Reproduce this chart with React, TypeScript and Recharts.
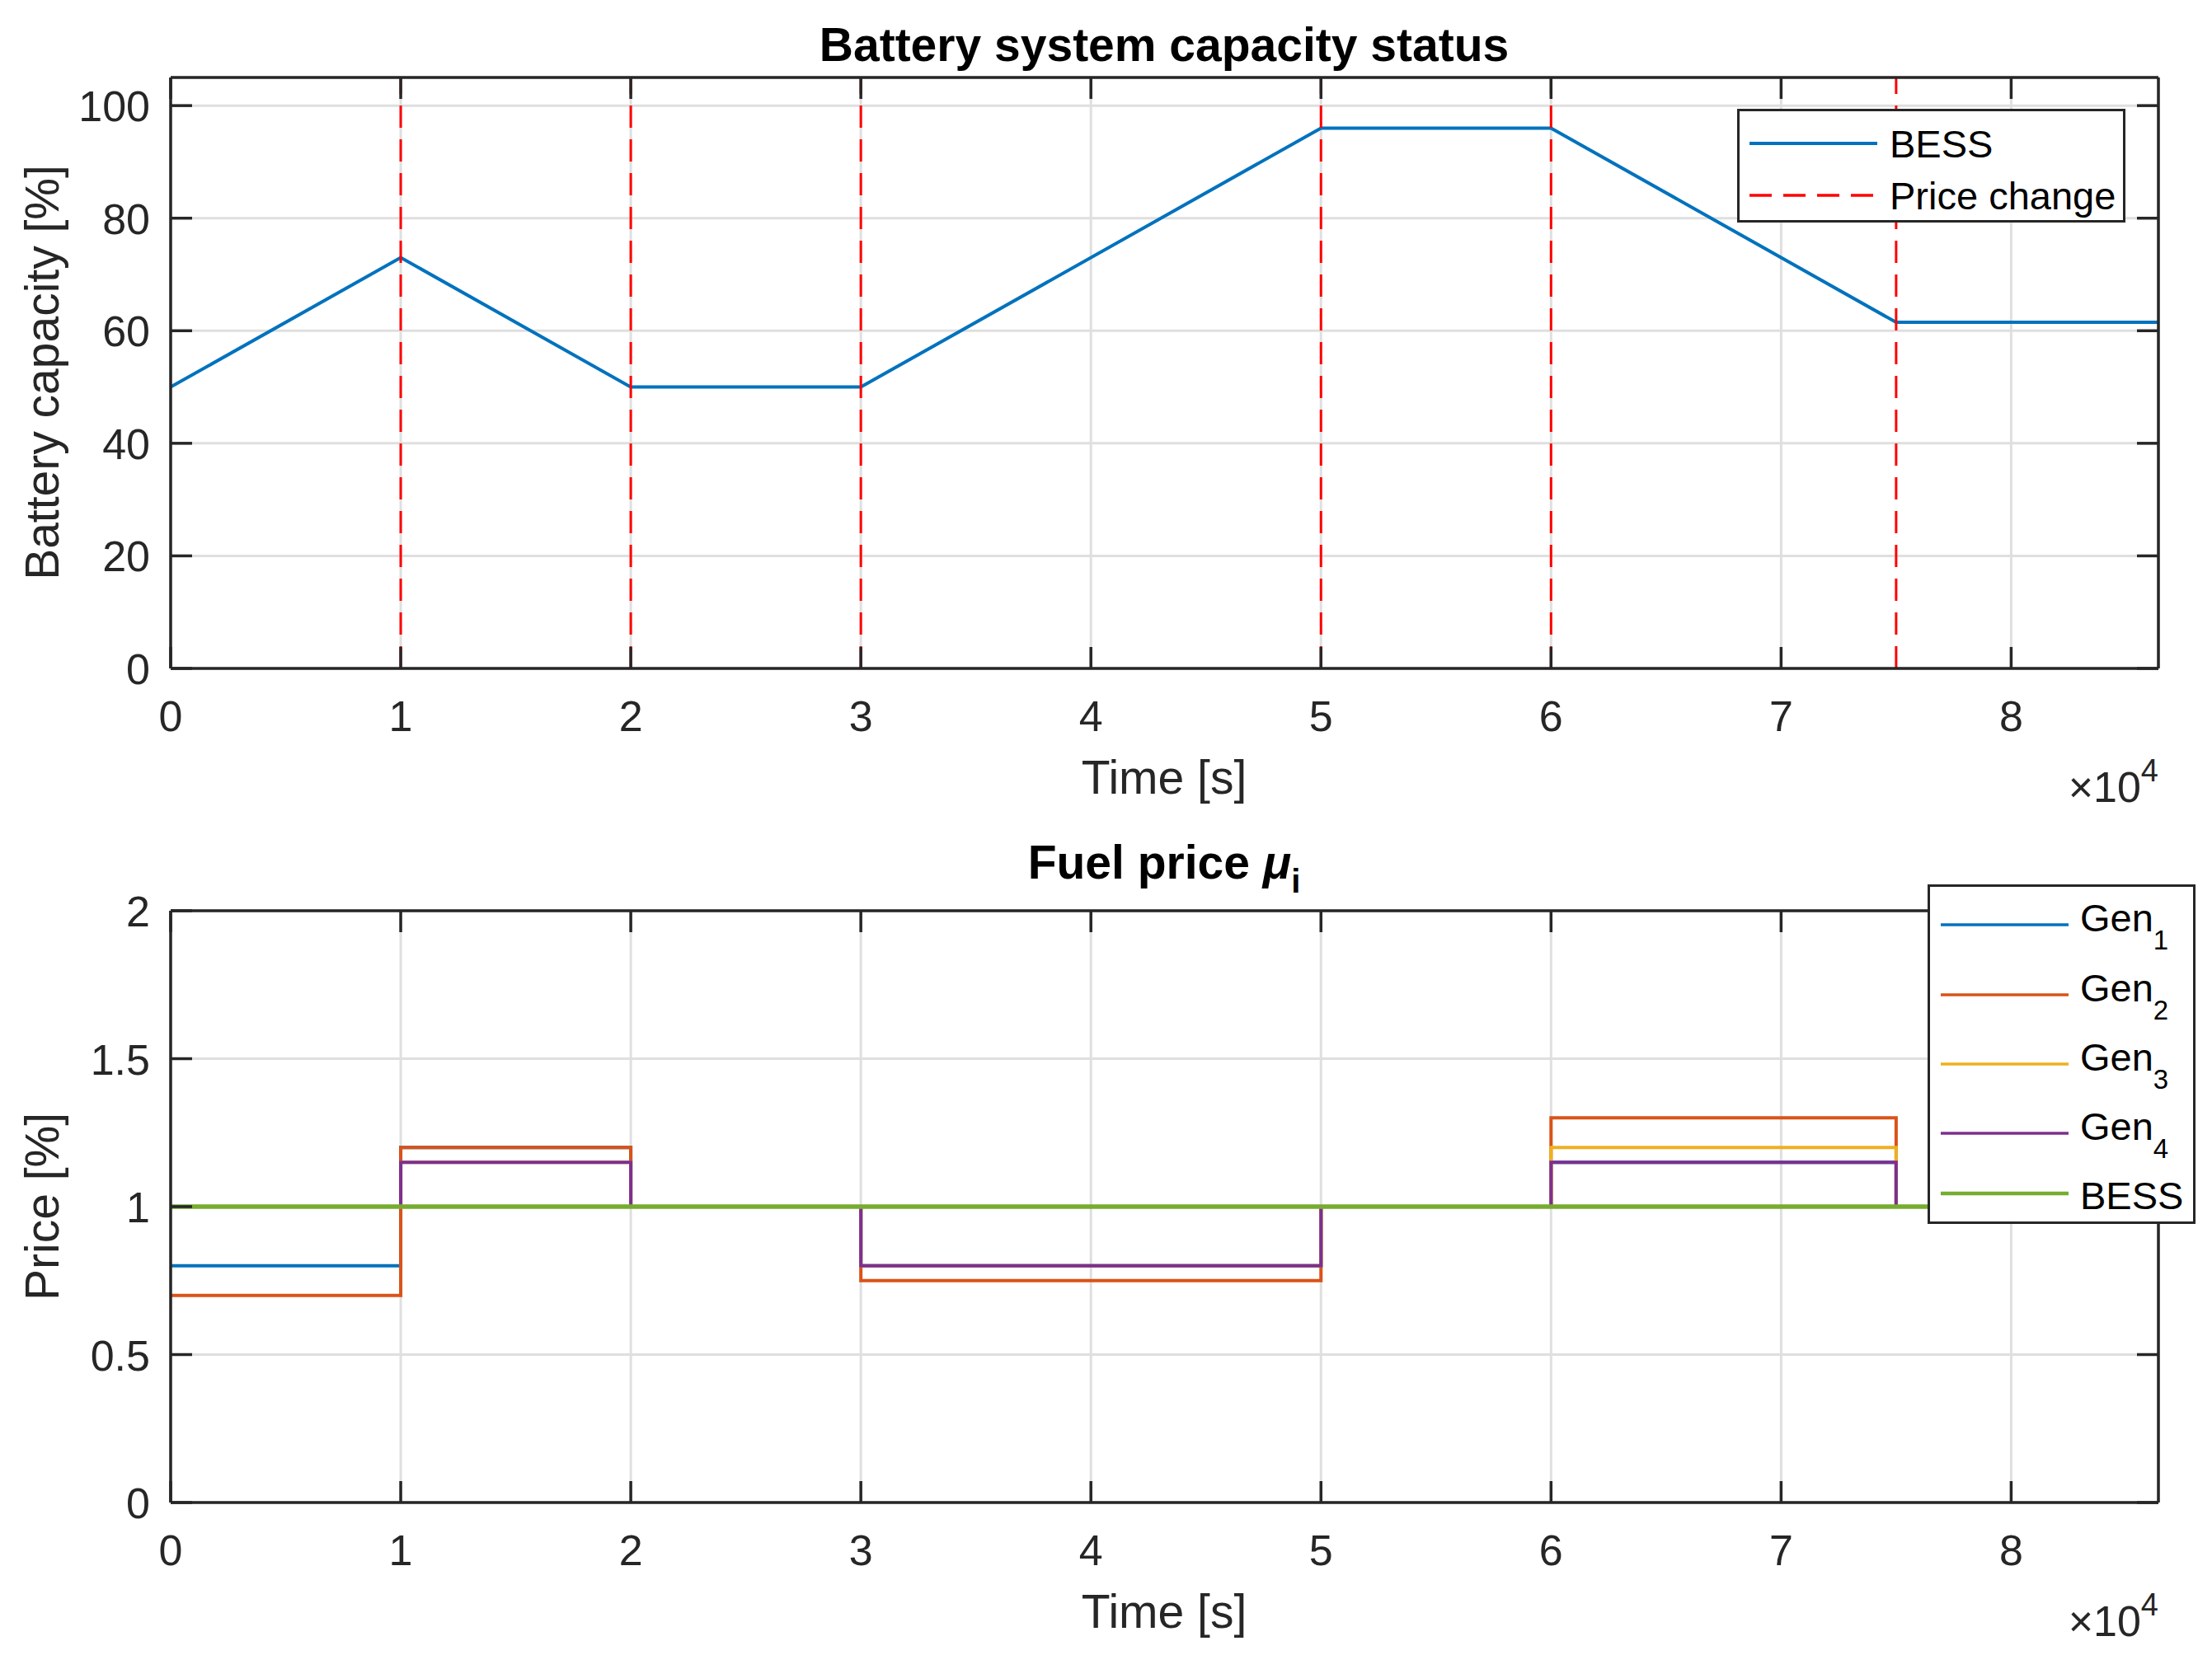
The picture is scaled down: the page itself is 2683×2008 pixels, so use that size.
import React from "react";
import {
  CartesianGrid,
  Legend,
  Line,
  LineChart,
  ReferenceLine,
  XAxis,
  YAxis,
} from "recharts";

// ---- data ----
const capTimes = [0, 10000, 20000, 30000, 50000, 60000, 75000, 86400];
const capValues = [50, 73, 50, 50, 96, 96, 61.5, 61.5];
const priceChangeTimes = [10000, 20000, 30000, 50000, 60000, 75000];

const priceTimes = [0, 10000, 20000, 30000, 50000, 60000, 75000, 86400];
const gen1Price = [0.8, 1.2, 1, 0.8, 1, 1.15, 1, 1];
const gen2Price = [0.7, 1.2, 1, 0.75, 1, 1.3, 1, 1];
const gen3Price = [1, 1.15, 1, 0.8, 1, 1.2, 1, 1];
const gen4Price = [1, 1.15, 1, 0.8, 1, 1.15, 1, 1];
const bessPrice = [1, 1, 1, 1, 1, 1, 1, 1];

const timeTicks = [0, 10000, 20000, 30000, 40000, 50000, 60000, 70000, 80000];
const capTicks = [0, 20, 40, 60, 80, 100];
const priceTicks = [0, 0.5, 1, 1.5, 2];

const capData = capTimes.map((t, i) => ({ t, bess: capValues[i] }));
const priceData = priceTimes.map((t, i) => ({
  t,
  gen1: gen1Price[i],
  gen2: gen2Price[i],
  gen3: gen3Price[i],
  gen4: gen4Price[i],
  bess: bessPrice[i],
}));

// ---- style ----
const W = 2683;
const H = 1004;
const FONT = '"Liberation Sans", Arial, Helvetica, sans-serif';
const AX = "#262626";
const GRID = "#dfdfdf";
const TICK_LEN = 26;
const AX_W = 3.5;
const C = {
  blue: "#0072BD",
  orange: "#D95319",
  yellow: "#EDB120",
  purple: "#7E2F8E",
  green: "#77AC30",
  red: "#FF0000",
};
const PLOT_W = 2411;

function makeXTick(plotH: number) {
  return (props: any) => {
    const { x, y, payload } = props;
    return (
      <g>
        <line x1={x} x2={x} y1={y} y2={y - TICK_LEN} stroke={AX} strokeWidth={AX_W} />
        <line x1={x} x2={x} y1={y - plotH} y2={y - plotH + TICK_LEN} stroke={AX} strokeWidth={AX_W} />
        <text x={x} y={y + 76} textAnchor="middle" fontSize={52} fontFamily={FONT} fill={AX}>
          {payload.value / 10000}
        </text>
      </g>
    );
  };
}

function makeYTick() {
  return (props: any) => {
    const { x, y, payload } = props;
    return (
      <g>
        <line x1={x} x2={x + TICK_LEN} y1={y} y2={y} stroke={AX} strokeWidth={AX_W} />
        <line x1={x + PLOT_W} x2={x + PLOT_W - TICK_LEN} y1={y} y2={y} stroke={AX} strokeWidth={AX_W} />
        <text x={x - 25} y={y + 19} textAnchor="end" fontSize={52} fontFamily={FONT} fill={AX}>
          {payload.value}
        </text>
      </g>
    );
  };
}

function TopLegend() {
  return (
    <svg width={471} height={138} style={{ display: "block" }}>
      <rect x={1.5} y={1.5} width={468} height={135} fill="#fff" stroke={AX} strokeWidth={3} />
      <line x1={15} x2={170} y1={42} y2={42} stroke={C.blue} strokeWidth={4} />
      <text x={185} y={59} fontSize={47} fontFamily={FONT} fill="#000">BESS</text>
      <line x1={15} x2={170} y1={105} y2={105} stroke={C.red} strokeWidth={3.5} strokeDasharray="27 14" />
      <text x={185} y={122} fontSize={47} fontFamily={FONT} fill="#000">Price change</text>
    </svg>
  );
}

const genLegend = [
  { name: "Gen", sub: "1", color: C.blue, y: 49 },
  { name: "Gen", sub: "2", color: C.orange, y: 134 },
  { name: "Gen", sub: "3", color: C.yellow, y: 218 },
  { name: "Gen", sub: "4", color: C.purple, y: 302 },
];

function BottomLegend() {
  return (
    <svg width={325} height={412} style={{ display: "block" }}>
      <rect x={1.5} y={1.5} width={322} height={409} fill="#fff" stroke={AX} strokeWidth={3} />
      {genLegend.map((g) => (
        <g key={g.sub}>
          <line x1={16} x2={171} y1={g.y} y2={g.y} stroke={g.color} strokeWidth={3.5} />
          <text x={185} y={g.y + 8} fontSize={47} fontFamily={FONT} fill="#000">
            {g.name}
            <tspan dy={22} fontSize={33}>{g.sub}</tspan>
          </text>
        </g>
      ))}
      <line x1={16} x2={171} y1={375} y2={375} stroke={C.green} strokeWidth={4.5} />
      <text x={185} y={394} fontSize={47} fontFamily={FONT} fill="#000">BESS</text>
    </svg>
  );
}

function CapacityChart() {
  const plotH = 717;
  return (
    <LineChart width={W} height={H} data={capData} margin={{ top: 94, right: 65, bottom: 0, left: 0 }}>
      <CartesianGrid stroke={GRID} strokeWidth={3} />
      <XAxis
        dataKey="t"
        type="number"
        domain={[0, 86400]}
        ticks={timeTicks}
        interval={0}
        height={193}
        tickSize={0}
        tickMargin={0}
        tickLine={false}
        axisLine={{ stroke: AX, strokeWidth: AX_W }}
        tick={makeXTick(plotH)}
      />
      <YAxis
        type="number"
        domain={[0, 105]}
        ticks={capTicks}
        interval={0}
        width={207}
        tickSize={0}
        tickMargin={0}
        tickLine={false}
        axisLine={{ stroke: AX, strokeWidth: AX_W }}
        tick={makeYTick()}
      />
      <Line
        dataKey="bess"
        name="BESS"
        type="linear"
        stroke={C.blue}
        strokeWidth={4}
        dot={false}
        activeDot={false}
        isAnimationActive={false}
      />
      {priceChangeTimes.map((t) => (
        <ReferenceLine key={t} x={t} stroke={C.red} strokeWidth={3} strokeDasharray="27 14" />
      ))}
      <ReferenceLine y={105} stroke={AX} strokeWidth={AX_W} />
      <ReferenceLine x={86400} stroke={AX} strokeWidth={AX_W} />
      <Legend
        layout="horizontal"
        verticalAlign="middle"
        align="center"
        wrapperStyle={{ position: "absolute", left: 2107, top: 132, width: 471, height: 138 }}
        content={() => <TopLegend />}
      />
    </LineChart>
  );
}

const priceSeries = [
  { key: "gen1", name: "Gen1", color: C.blue, width: 4 },
  { key: "gen2", name: "Gen2", color: C.orange, width: 4 },
  { key: "gen3", name: "Gen3", color: C.yellow, width: 4 },
  { key: "gen4", name: "Gen4", color: C.purple, width: 4 },
  { key: "bess", name: "BESS", color: C.green, width: 5.5 },
];

function PriceChart() {
  const plotH = 718;
  return (
    <LineChart width={W} height={H} data={priceData} margin={{ top: 101, right: 65, bottom: 0, left: 0 }}>
      <CartesianGrid stroke={GRID} strokeWidth={3} />
      <XAxis
        dataKey="t"
        type="number"
        domain={[0, 86400]}
        ticks={timeTicks}
        interval={0}
        height={185}
        tickSize={0}
        tickMargin={0}
        tickLine={false}
        axisLine={{ stroke: AX, strokeWidth: AX_W }}
        tick={makeXTick(plotH)}
      />
      <YAxis
        type="number"
        domain={[0, 2]}
        ticks={priceTicks}
        interval={0}
        width={207}
        tickSize={0}
        tickMargin={0}
        tickLine={false}
        axisLine={{ stroke: AX, strokeWidth: AX_W }}
        tick={makeYTick()}
      />
      {priceSeries.map((s) => (
        <Line
          key={s.key}
          dataKey={s.key}
          name={s.name}
          type="stepAfter"
          stroke={s.color}
          strokeWidth={s.width}
          dot={false}
          activeDot={false}
          isAnimationActive={false}
        />
      ))}
      <ReferenceLine y={2} stroke={AX} strokeWidth={AX_W} />
      <ReferenceLine x={86400} stroke={AX} strokeWidth={AX_W} />
      <Legend
        layout="horizontal"
        verticalAlign="middle"
        align="center"
        wrapperStyle={{ position: "absolute", left: 2338, top: 69, width: 325, height: 412 }}
        content={() => <BottomLegend />}
      />
    </LineChart>
  );
}

function Labels() {
  const cx = 1412;
  return (
    <svg
      width={W}
      height={2008}
      style={{ position: "absolute", left: 0, top: 0, pointerEvents: "none" }}
      fontFamily={FONT}
    >
      <text x={cx} y={74} textAnchor="middle" fontSize={57} fontWeight="bold" fill="#000">
        Battery system capacity status
      </text>
      <text x={cx} y={963} textAnchor="middle" fontSize={57} fill={AX}>Time [s]</text>
      <text transform="translate(71,452) rotate(-90)" textAnchor="middle" fontSize={57} fill={AX}>
        Battery capacity [%]
      </text>
      <text x={2618} y={973} textAnchor="end" fontSize={52} fill={AX}>
        ×10<tspan dy={-25} fontSize={38}>4</tspan>
      </text>

      <text x={cx} y={1066} textAnchor="middle" fontSize={57} fontWeight="bold" fill="#000">
        Fuel price <tspan fontStyle="italic">μ</tspan>
        <tspan dy={17} fontSize={40}>i</tspan>
      </text>
      <text x={cx} y={1975} textAnchor="middle" fontSize={57} fill={AX}>Time [s]</text>
      <text transform="translate(71,1464) rotate(-90)" textAnchor="middle" fontSize={57} fill={AX}>
        Price [%]
      </text>
      <text x={2618} y={1985} textAnchor="end" fontSize={52} fill={AX}>
        ×10<tspan dy={-25} fontSize={38}>4</tspan>
      </text>
    </svg>
  );
}

export default function App() {
  return (
    <div style={{ position: "relative", width: W, height: 2008, background: "#fff" }}>
      <style>{`body{margin:0;}`}</style>
      <div style={{ position: "absolute", left: 0, top: 0 }}>
        <CapacityChart />
      </div>
      <div style={{ position: "absolute", left: 0, top: 1004 }}>
        <PriceChart />
      </div>
      <Labels />
    </div>
  );
}
